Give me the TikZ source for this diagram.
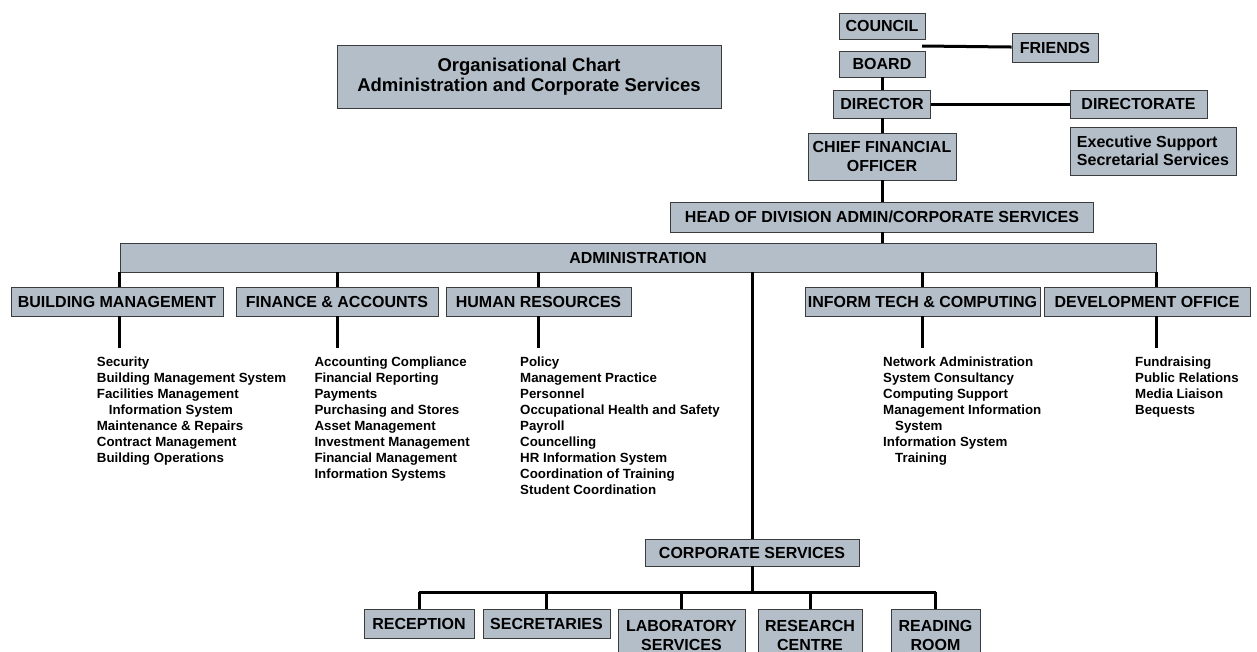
\documentclass[tikz,border=0pt]{standalone}
\usepackage{fontspec}
\setmainfont{Liberation Sans}
\usepackage{tikz}

\definecolor{caixa}{RGB}{180,190,201}
\definecolor{borda}{RGB}{60,60,60}

\begin{document}
\begin{tikzpicture}[x = 1pt, y = -1pt]
            % Estilos
            \tikzstyle{box}=[draw=borda, fill=caixa, line width=0.8pt, inner sep=0pt, align=center, minimum height=29pt, font=\fontsize{16}{18.5}\selectfont\bfseries]
            \tikzstyle{list}=[anchor=base west, inner sep=0pt, align=left, font=\fontsize{13.3}{16}\selectfont\bfseries]
            \tikzstyle{link}=[line width=3pt]

            \useasboundingbox (0,0) rectangle (1257,651);
            \clip (0,0) rectangle (1257,651);

            % Topo
            \node[box, minimum width=384pt, minimum height=63pt, font=\fontsize{18.5}{20}\selectfont\bfseries] (title) at (529,76.5) {Organisational Chart\\Administration and Corporate Services};
            \node[box, minimum width=86pt, minimum height=26pt] (council) at (882,26) {COUNCIL};
            \node[box, minimum width=86pt] (friends) at (1055,47.5) {FRIENDS};
            \node[box, minimum width=86pt, minimum height=26pt] (board) at (882,64) {BOARD};
            \node[box, minimum width=97pt, minimum height=28pt] (director) at (882,104) {DIRECTOR};
            \node[box, minimum width=137pt, minimum height=28pt] (directorate) at (1138.5,104) {DIRECTORATE};
            \node[box, minimum width=166pt, minimum height=48pt, align=left] (support) at (1153,151) {Executive Support\\Secretarial Services};
            \node[box, minimum width=148pt, minimum height=47pt] (cfo) at (882,156.5) {CHIEF FINANCIAL\\OFFICER};
            \node[box, minimum width=423pt, minimum height=30pt] (head) at (882,217) {HEAD OF DIVISION ADMIN/CORPORATE SERVICES};
            \node[box, minimum width=1036pt] (admin) at (638,257.5) {ADMINISTRATION};
            \coordinate (cf) at (922,46);

            % Departamentos
            \node[box, minimum width=212pt] (bm) at (117,301.5) {BUILDING MANAGEMENT};
            \node[box, minimum width=202pt] (fa) at (337,301.5) {FINANCE \& ACCOUNTS};
            \node[box, minimum width=185pt] (hr) at (538.5,301.5) {HUMAN RESOURCES};
            \node[box, minimum width=235pt] (it) at (922.5,301.5) {INFORM TECH \& COMPUTING};
            \node[box, minimum width=206pt] (dev) at (1147,301.5) {DEVELOPMENT OFFICE};

            % Listas (ancoradas na linha de base da ultima linha)
            \node[list] (bmlist) at (96.7,462) {Security\\Building Management System\\Facilities Management\\\hspace*{12pt}Information System\\Maintenance \& Repairs\\Contract Management\\Building Operations};
            \node[list] (falist) at (314.3,478) {Accounting Compliance\\Financial Reporting\\Payments\\Purchasing and Stores\\Asset Management\\Investment Management\\Financial Management\\Information Systems};
            \node[list] (hrlist) at (520,494) {Policy\\Management Practice\\Personnel\\Occupational Health and Safety\\Payroll\\Councelling\\HR Information System\\Coordination of Training\\Student Coordination};
            \node[list] (itlist) at (883,462) {Network Administration\\System Consultancy\\Computing Support\\Management Information\\\hspace*{12pt}System\\Information System\\\hspace*{12pt}Training};
            \node[list] (devlist) at (1135,414) {Fundraising\\Public Relations\\Media Liaison\\Bequests};
            \coordinate (stem) at (0,348);

            % Servicos
            \node[box, minimum width=214pt, minimum height=27pt] (corp) at (752,552.5) {CORPORATE SERVICES};
            \coordinate (bus) at (752,592);
            \node[box, minimum width=110pt, anchor=north] (reception) at (419,609) {RECEPTION};
            \node[box, minimum width=127pt, anchor=north] (secretaries) at (546.5,609) {SECRETARIES};
            \node[box, minimum width=127pt, minimum height=52pt, anchor=north] (lab) at (681.5,609) {LABORATORY\\SERVICES};
            \node[box, minimum width=104pt, minimum height=52pt, anchor=north] (research) at (810,609) {RESEARCH\\CENTRE};
            \node[box, minimum width=89pt, minimum height=52pt, anchor=north] (reading) at (935.5,609) {READING\\ROOM};

            % Ligacoes
            \draw[link] (cf) -- (friends);
            \draw[link] (board) -- (director);
            \draw[link] (director) -- (directorate);
            \draw[link] (director) -- (cfo);
            \draw[link] (cfo) -- (head);
            \draw[link] (head.south) -- (head.south |- admin.north);
            \draw[link] (admin.south west) -- (admin.south west |- bm.north);
            \draw[link] (fa.north |- admin.south) -- (fa.north);
            \draw[link] (hr.north |- admin.south) -- (hr.north);
            \draw[link] (it.north |- admin.south) -- (it.north);
            \draw[link] (admin.south east) -- (admin.south east |- dev.north);
            \draw[link] (admin.south west |- bm.south) -- (admin.south west |- stem);
            \draw[link] (fa.south) -- (fa.south |- stem);
            \draw[link] (hr.south) -- (hr.south |- stem);
            \draw[link] (it.south) -- (it.south |- stem);
            \draw[link] (admin.south east |- dev.south) -- (admin.south east |- stem);
            \draw[link] (corp.north |- admin.south) -- (corp.north);
            \draw[link] (corp) -- (bus);
            \draw[link] (reception.north |- bus) -- (reading.north |- bus);
            \draw[link] (reception.north |- bus) -- (reception.north);
            \draw[link] (secretaries.north |- bus) -- (secretaries.north);
            \draw[link] (lab.north |- bus) -- (lab.north);
            \draw[link] (research.north |- bus) -- (research.north);
            \draw[link] (reading.north |- bus) -- (reading.north);
        \end{tikzpicture}
\end{document}
